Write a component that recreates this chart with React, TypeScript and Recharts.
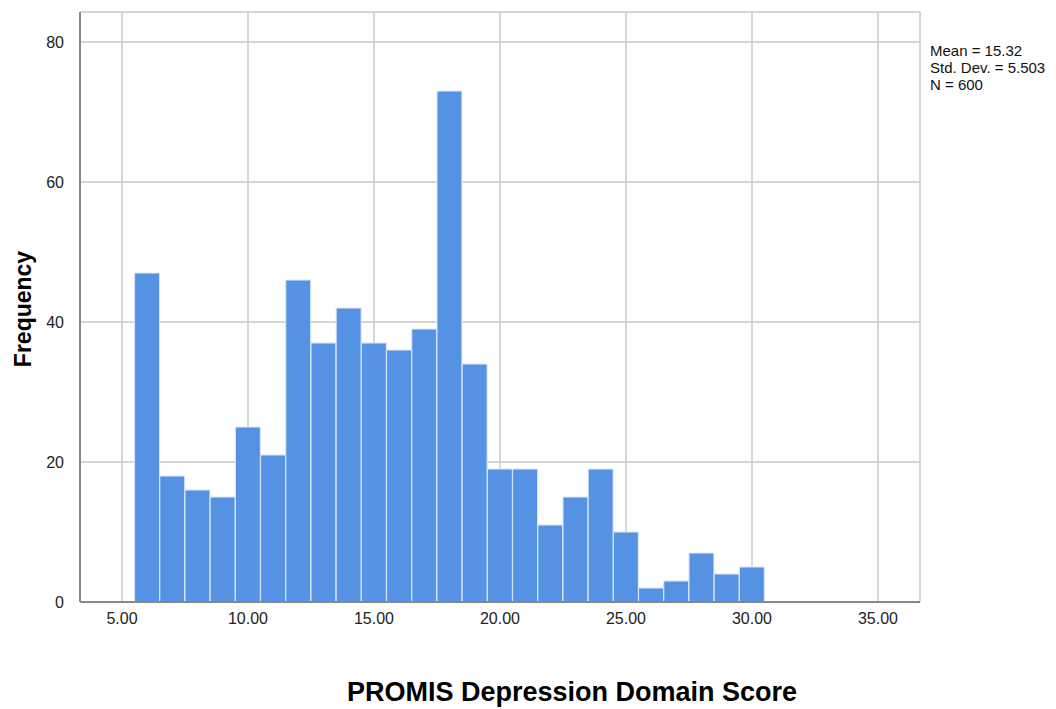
import React from 'react'
import { ComposedChart, Bar, XAxis, YAxis, CartesianGrid } from 'recharts'

// bin centres (width 1) and counts
const scores = [6, 7, 8, 9, 10, 11, 12, 13, 14, 15, 16, 17, 18, 19, 20, 21, 22, 23, 24, 25, 26, 27, 28, 29, 30]
const counts = [47, 18, 16, 15, 25, 21, 46, 37, 42, 37, 36, 39, 73, 34, 19, 19, 11, 15, 19, 10, 2, 3, 7, 4, 5]
const xTicks = [5, 10, 15, 20, 25, 30, 35]
const yTicks = [0, 20, 40, 60, 80]
const stats = ['Mean = 15.32', 'Std. Dev. = 5.503', 'N = 600']

const data = scores.map((s, i) => ({ score: s, count: counts[i] }))

const W = 1056
const H = 709
const plot = { left: 80, right: 920, top: 12, bottom: 602 }
const xDomain: [number, number] = [10 / 3, 110 / 3]
const unitPx = (plot.right - plot.left) / (xDomain[1] - xDomain[0])
const font = 'Liberation Sans, Arial, sans-serif'

export default function App() {
  return (
    <div style={{ position: 'absolute', left: 0, top: 0, width: W, height: H, background: '#fff' }}>
      <ComposedChart
        width={W}
        height={H}
        data={data}
        margin={{ left: plot.left - 40, right: W - plot.right, top: plot.top, bottom: 0 }}
      >
        <CartesianGrid stroke="#c8c8c8" strokeWidth={1.5} />
        <XAxis
          dataKey="score"
          type="number"
          domain={xDomain}
          ticks={xTicks}
          allowDataOverflow
          height={H - plot.bottom}
          tickFormatter={(v: number) => v.toFixed(2)}
          tick={{ fontSize: 16, fill: '#222', fontFamily: font }}
          tickLine={false}
          tickMargin={5}
          axisLine={{ stroke: '#888', strokeWidth: 2 }}
          label={{
            value: 'PROMIS Depression Domain Score',
            position: 'insideBottom',
            offset: 8,
            style: { fontSize: 27, fontWeight: 700, fill: '#000', fontFamily: font },
            dx: 72,
          }}
        />
        <YAxis
          type="number"
          domain={[0, 84.3]}
          ticks={yTicks}
          width={40}
          tick={{ fontSize: 16, fill: '#222', fontFamily: font }}
          tickLine={false}
          tickMargin={10}
          axisLine={{ stroke: '#888', strokeWidth: 2 }}
          label={{
            value: 'Frequency',
            angle: -90,
            position: 'insideLeft',
            dx: -22,
            dy: 2,
            style: { fontSize: 23, fontWeight: 700, fill: '#000', fontFamily: font, textAnchor: 'middle' },
          }}
        />
        <Bar
          dataKey="count"
          fill="#5592e4"
          stroke="#d9e6f8"
          strokeWidth={1}
          barSize={unitPx - 0.3}
          isAnimationActive={false}
        />
      </ComposedChart>
      <div
        style={{
          position: 'absolute',
          left: 930,
          top: 42,
          fontFamily: font,
          fontSize: 15,
          lineHeight: '17px',
          color: '#111',
        }}
      >
        {stats.map((s) => (
          <div key={s}>{s}</div>
        ))}
      </div>
    </div>
  )
}
